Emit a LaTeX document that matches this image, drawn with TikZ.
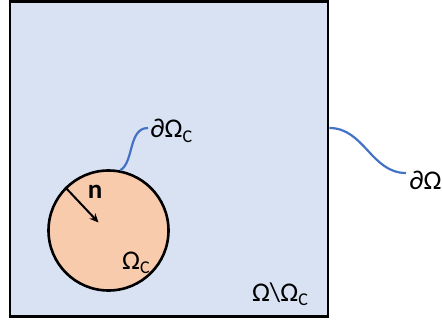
\documentclass[tikz,border=0pt]{standalone}
\usepackage{fontspec}
\setmainfont{Carlito}
\usetikzlibrary{arrows.meta,positioning}
\definecolor{domfill}{HTML}{D9E2F3}
\definecolor{incfill}{HTML}{F8CBAD}
\definecolor{bndblue}{HTML}{4472C4}
\newcommand{\subc}{\raisebox{-0.35ex}{\fontsize{18}{20}\selectfont C}}
\tikzset{
  dom/.style={rectangle,draw=black,fill=domfill,line width=2.8pt,
              minimum width=318pt,minimum height=315pt,inner sep=0pt},
  inc/.style={circle,draw=black,fill=incfill,line width=2.6pt,
              minimum size=120pt,inner sep=0pt},
  lbl/.style={font=\fontsize{27}{30}\selectfont,inner sep=0pt},
  bnd/.style={draw=bndblue,line width=2.2pt},
  arr/.style={-{Stealth[length=9pt,width=8pt]},line width=2pt},
}

\begin{document}
\begin{tikzpicture}[x=1pt,y=-1pt]
  \useasboundingbox (0,0) rectangle (442,324);

  \node[dom] (om) at (169,159) {};
  \node[inc] (inc) at (108.5,230.5) {};

  \node[lbl,anchor=west] (dc) at (150,131) {∂Ω\subc};
  \node[lbl,anchor=west] (d) at (409,180) {∂Ω};
  \node[lbl] (oc) at (136,263) {Ω\subc};
  \node[lbl] (rest) at (280,294) {Ω\textbackslash Ω\subc};
  \node[lbl,font=\fontsize{27}{30}\selectfont\bfseries] (nl) at (95,192) {n};

  % boundary markers
  \draw[bnd] ([yshift=31pt]om.east) to[out=0,in=180] ([shift={(-3,-7)}]d.west);
  \draw[bnd] (inc.79) .. controls +(14,-8) and +(-20,0)
             .. ([shift={(-2,-3)}]dc.west);

  % normal
  \draw[arr] (inc.135) -- ([shift={(-10,-8)}]inc.center);
\end{tikzpicture}
\end{document}
